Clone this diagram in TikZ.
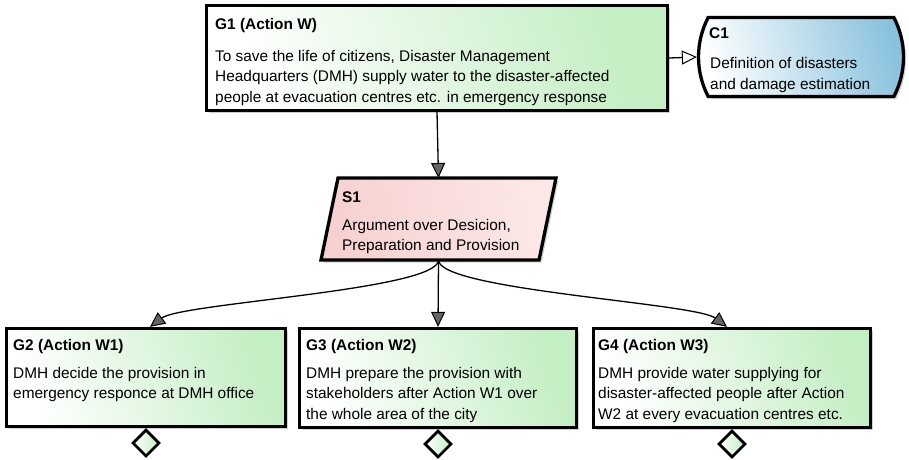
\documentclass[tikz,border=0pt]{standalone}
\usepackage{fontspec}
\setmainfont{Liberation Sans}
\usetikzlibrary{arrows.meta,shapes.geometric,shapes.misc,shadows,calc}

\definecolor{goalgreen}{RGB}{196,238,196}
\definecolor{ctxblue}{RGB}{138,194,222}
\definecolor{strpink}{RGB}{247,208,208}
\definecolor{strpinklight}{RGB}{252,232,232}
\definecolor{headgray}{RGB}{100,100,100}

\tikzset{
  boxline/.style={draw=black, line width=3.3pt, inner sep=0pt,
    drop shadow={shadow xshift=2.5pt, shadow yshift=-2.5pt, opacity=0.3, fill=black!60}},
  goalbox/.style={boxline, rectangle, left color=white, right color=goalgreen, shading angle=110},
  ctxbox/.style={boxline, rounded rectangle, rounded rectangle arc length=55,
    left color=white, right color=ctxblue, shading angle=105},
  undevel/.style={draw=black, line width=2.8pt, diamond, aspect=1, inner sep=0pt,
    minimum width=27pt, minimum height=27pt, left color=white, right color=goalgreen},
  frame/.style={inner sep=0pt, outer sep=0pt},
  heading/.style={anchor=base west, inner sep=0pt, font=\bfseries\fontsize{15.4}{20.5}\selectfont},
  % multi-line texts are placed by the baseline of their last line
  bodytext/.style={anchor=base west, inner sep=0pt, align=left, font=\fontsize{15.4}{20.5}\selectfont},
  link/.style={draw=black, line width=1.3pt},
  solidtip/.style={-{Triangle[width=14pt,length=15pt,fill=headgray,line width=1pt]}},
  hollowtip/.style={-{Triangle[width=14pt,length=15pt,fill=white,line width=1pt]}}
}

\begin{document}
\begin{tikzpicture}[x=1pt,y=-1pt]
\useasboundingbox (0,0) rectangle (909,459);

% top goal and its context
\node[goalbox, minimum width=461pt, minimum height=105pt] (g1) at (437,58) {};
\node[ctxbox, minimum width=205pt, minimum height=79pt] (c1) at (801,57) {};

% strategy: parallelogram drawn on an invisible frame node
\node[frame, minimum width=235pt, minimum height=82pt] (s1) at (438.5,219) {};
\path[boxline, left color=strpink, right color=strpinklight, shading angle=100]
  ($(s1.north west)+(17,0)$) -- (s1.north east) -- ($(s1.south east)+(-17,0)$)
  -- (s1.south west) -- cycle;

% sub-goals
\node[goalbox, minimum width=279pt, minimum height=98pt] (g2) at (146,377.5) {};
\node[goalbox, minimum width=277pt, minimum height=99pt] (g3) at (438,378) {};
\node[goalbox, minimum width=277pt, minimum height=99pt] (g4) at (732,378) {};

% undeveloped markers
\node[undevel, anchor=north] (g2u) at (g2.south) {};
\node[undevel, anchor=north] (g3u) at (g3.south) {};
\node[undevel, anchor=north] (g4u) at (g4.south) {};

% texts
\node[heading] (g1h) at (215,29) {G1 (Action W)};
\node[bodytext] (g1b) at (215,102) {To save the life of citizens, Disaster Management\\Headquarters (DMH) supply water to the disaster-affected\\people at evacuation centres etc. in emergency response};

\node[heading] (c1h) at (709,38) {C1};
\node[bodytext] (c1b) at (710,89) {Definition of disasters\\and damage estimation};

\node[heading] (s1h) at (342,202) {S1};
\node[bodytext] (s1b) at (342,250.5) {Argument over Desicion,\\Preparation and Provision};

\node[heading] (g2h) at (13,350) {G2 (Action W1)};
\node[bodytext] (g2b) at (13,398.5) {DMH decide the provision in\\emergency responce at DMH office};

\node[heading] (g3h) at (306,350) {G3 (Action W2)};
\node[bodytext] (g3b) at (306,419) {DMH prepare the provision with\\stakeholders after Action W1 over\\the whole area of the city};

\node[heading] (g4h) at (598,350) {G4 (Action W3)};
\node[bodytext] (g4b) at (598,419) {DMH provide water supplying for\\disaster-affected people after Action\\W2 at every evacuation centres etc.};

% connectors
\draw[link, hollowtip] (g1.east) -- (c1.west);
\draw[link, solidtip] (g1.south) -- (s1.north);
\draw[link, solidtip] (s1.south) .. controls +(0,30) and +(32,-24) .. ([xshift=4pt]g2.north);
\draw[link, solidtip] (s1.south) -- (g3.north);
\draw[link, solidtip] (s1.south) .. controls +(0,30) and +(-32,-24) .. ([xshift=-5pt]g4.north);
\end{tikzpicture}
\end{document}
